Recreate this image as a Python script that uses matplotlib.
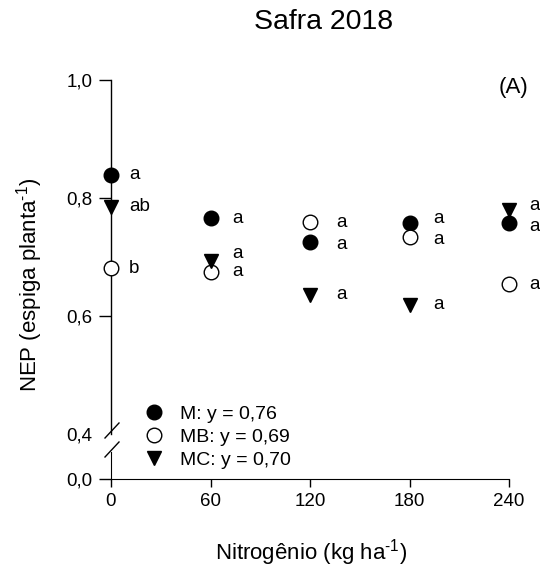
import matplotlib
matplotlib.use("Agg")
import matplotlib.pyplot as plt
from matplotlib.lines import Line2D

plt.rcParams['font.family'] = ['Liberation Sans', 'DejaVu Sans']
plt.rcParams['mathtext.fontset'] = 'custom'
plt.rcParams['mathtext.rm'] = 'Liberation Sans'
plt.rcParams['mathtext.it'] = 'Liberation Sans:italic'

# data
nitrogen = [0, 60, 120, 180, 240]
nep_m = [0.839, 0.766, 0.725, 0.758, 0.758]
nep_mb = [0.681, 0.675, 0.759, 0.734, 0.654]
nep_mc = [0.785, 0.693, 0.636, 0.619, 0.780]
letters_m = ['a', 'a', 'a', 'a', 'a']
letters_mb = ['b', 'a', 'a', 'a', 'a']
letters_mc = ['ab', 'a', 'a', 'a', 'a']
legend_labels = ['M: y = 0,76', 'MB: y = 0,69', 'MC: y = 0,70']
yticks_up = [0.4, 0.6, 0.8, 1.0]
ytick_labels_up = ['0,4', '0,6', '0,8', '1,0']
xticks = [0, 60, 120, 180, 240]

W, H = 540, 569
def fx(px):
    return px / W
def fy(py):
    return 1 - py / H

fig = plt.figure(figsize=(W / 100, H / 100), dpi=100)
left, right = 111, 509
ax = fig.add_axes([fx(left), fy(434), fx(right - left), fy(80) - fy(434)])
axb = fig.add_axes([fx(left), fy(479), fx(right - left), fy(452) - fy(479)])

# upper part
ms = 10.5
ax.plot(nitrogen, nep_m, 'o', color='black', ms=ms, clip_on=False, zorder=3, label=legend_labels[0])
ax.plot(nitrogen, nep_mb, 'o', mfc='white', mec='black', mew=1.0, ms=ms, clip_on=False, zorder=3, label=legend_labels[1])
ax.plot(nitrogen, nep_mc, 'v', color='black', ms=ms, clip_on=False, zorder=3, label=legend_labels[2])

ax.set_xlim(0, 240)
ax.set_ylim(0.4, 1.0)
ax.set_yticks(yticks_up)
ax.set_yticklabels(ytick_labels_up)
ax.tick_params(axis='y', direction='out', length=8.5, width=1, pad=5, labelsize=13.5)
ax.yaxis.get_major_ticks()[0].tick1line.set_visible(False)
ax.set_xticks([])
for s in ['top', 'right', 'bottom']:
    ax.spines[s].set_visible(False)
ax.spines['left'].set_linewidth(1)

# letters next to the points
xoff = [18, 22, 26, 24, 20]  # px
nudge = {('m', 2): -2, ('m', 3): 4, ('m', 4): -4, ('mb', 3): -3,
         ('mc', 1): 8, ('mc', 4): 4}
for key, vals, labs in [('m', nep_m, letters_m), ('mb', nep_mb, letters_mb), ('mc', nep_mc, letters_mc)]:
    for i, (x, y, t) in enumerate(zip(nitrogen, vals, labs)):
        dy = nudge.get((key, i), 0)
        ax.annotate(t, (x, y), xytext=(xoff[i] * 0.72, dy * 0.72), textcoords='offset points',
                    ha='left', va='center', fontsize=13.5, annotation_clip=False)

# lower part
axb.set_xlim(0, 240)
axb.set_ylim(0, 0.1)
axb.set_yticks([0])
axb.set_yticklabels(['0,0'])
axb.set_xticks(xticks)
axb.set_xticklabels([str(v) for v in xticks])
axb.tick_params(axis='y', direction='out', length=8.5, width=1, pad=5, labelsize=13.5)
axb.tick_params(axis='x', direction='out', length=6, width=1, pad=4, labelsize=13.5)
for s in ['top', 'right']:
    axb.spines[s].set_visible(False)
axb.patch.set_visible(False)

# break marks
for yc in [430.5, 449.5]:
    fig.add_artist(Line2D([fx(105), fx(119)], [fy(yc + 7.5), fy(yc - 7.5)],
                          transform=fig.transFigure, color='black', lw=1))

leg = ax.legend(loc='upper left', bbox_to_anchor=(fx(144), fy(405)), bbox_transform=fig.transFigure,
                frameon=False, fontsize=14, borderpad=0, borderaxespad=0, handlelength=1.0,
                handletextpad=0.85, labelspacing=0.28, numpoints=1)

fig.text(fx(324), fy(22), 'Safra 2018', ha='center', va='center', fontsize=20.5)
fig.text(fx(513), fy(87), '(A)', ha='center', va='center', fontsize=16)
fig.text(fx(311), fy(553), r'Nitrogênio (kg ha$^{\text{-1}}$)', ha='center', va='center', fontsize=16)
fig.text(fx(30), fy(285), r'NEP (espiga planta$^{\text{-1}}$)', ha='center', va='center', rotation=90, fontsize=16)

fig.savefig('out.png', dpi=100, facecolor='white')
